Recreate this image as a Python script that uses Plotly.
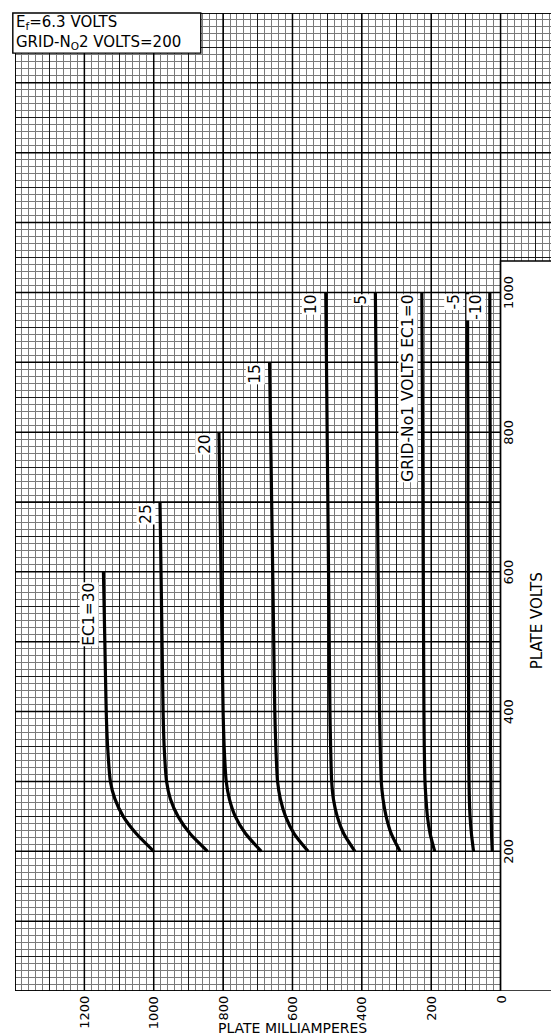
import plotly.graph_objects as go

# ---------------- data ----------------
plate_volts = [200, 225, 250, 275, 300, 350, 400, 500, 600, 700, 800, 900, 1000]

grid1_labels = ["EC1=30", "25", "20", "15", "10", "5", "GRID-No1 VOLTS EC1=0", "-5", "-10"]

ma_ec30 = [1000, 1050, 1088, 1112, 1125, 1133, 1137, 1141, 1145]
ma_ec25 = [845, 895, 930, 952, 963, 970, 973, 976, 979, 982]
ma_ec20 = [690, 735, 765, 782, 791, 797, 800, 803, 806, 809, 812]
ma_ec15 = [555, 595, 620, 635, 643, 648, 651, 654, 657, 660, 663, 666]
ma_ec10 = [420, 452, 471, 482, 487, 490, 492, 494, 496, 498, 500, 502, 504]
ma_ec5 = [290, 315, 330, 339, 344, 347, 349, 351, 353, 355, 357, 359, 361]
ma_ec0 = [190, 203, 211, 215, 218, 220, 221, 222, 223, 224, 225, 226, 227]
ma_ecm5 = [78, 84, 88, 90, 91, 92, 92, 93, 93, 94, 94, 95, 95]
ma_ecm10 = [24, 26, 27, 28, 28, 29, 29, 29, 30, 30, 30, 31, 31]

curves_ma = [ma_ec30, ma_ec25, ma_ec20, ma_ec15, ma_ec10, ma_ec5, ma_ec0, ma_ecm5, ma_ecm10]

ma_ticks = [1200, 1000, 800, 600, 400, 200, 0]
volt_ticks = [200, 400, 600, 800, 1000]

note_lines = ["E<sub>f</sub>=6.3 VOLTS", "GRID-N<sub>O</sub>2 VOLTS=200"]

# ---------------- layout constants ----------------
X_MAX, X_MIN = 1400, -180   # plate mA (reversed axis)
Y_MIN, Y_MAX = 0, 1400      # plate volts
CUT_V = 1045                # blank corner height
FONT = "DejaVu Sans"

fig = go.Figure()

for name, ma in zip(grid1_labels, curves_ma):
    v = plate_volts[:len(ma)]
    fig.add_trace(go.Scatter(
        x=ma, y=v, mode="lines", name=name,
        line=dict(color="black", width=3.2, shape="spline", smoothing=0.6),
        hoverinfo="skip", showlegend=False))

shapes = []
# heavy grid lines (every 10 squares)
for m in range(0, X_MAX + 1, 200):
    shapes.append(dict(type="line", xref="x", yref="y", x0=m, x1=m, y0=Y_MIN, y1=Y_MAX,
                       line=dict(color="black", width=1.5), layer="between"))
for vv in range(0, Y_MAX + 1, 100):
    shapes.append(dict(type="line", xref="x", yref="y", x0=X_MAX, x1=X_MIN, y0=vv, y1=vv,
                       line=dict(color="black", width=1.5), layer="between"))
# blank lower-right corner
shapes.append(dict(type="rect", xref="x", yref="y", x0=0, x1=X_MIN - 30, y0=Y_MIN - 100, y1=CUT_V,
                   fillcolor="white", line=dict(width=0), layer="between"))
# outline of the graph paper
shapes.append(dict(type="path", xref="x", yref="y",
                   path=(f"M {X_MAX} {Y_MIN} L {X_MAX} {Y_MAX} L {X_MIN} {Y_MAX} "
                         f"L {X_MIN} {CUT_V} L 0 {CUT_V} L 0 {Y_MIN} Z"),
                   line=dict(color="black", width=1.6), layer="between"))
shapes.append(dict(type="line", xref="x", yref="y", x0=0, x1=X_MIN - 30, y0=Y_MIN, y1=Y_MIN,
                   line=dict(color="black", width=1.4), layer="between"))
# note box
shapes.append(dict(type="rect", xref="paper", yref="paper", x0=-0.004, x1=0.339, y0=0.959, y1=1.0,
                   fillcolor="white", line=dict(color="black", width=1.4), layer="above"))

annotations = []
# bottom tick labels
for t in ma_ticks:
    annotations.append(dict(x=t, y=0, xref="x", yref="paper", text=str(t), showarrow=False,
                            textangle=-90, xanchor="center", yanchor="top", yshift=-3,
                            font=dict(family=FONT, size=13, color="black")))
annotations.append(dict(x=600, y=0, xref="x", yref="paper", text="PLATE MILLIAMPERES",
                        showarrow=False, yanchor="middle", yshift=-37,
                        font=dict(family=FONT, size=14, color="black")))
# right-hand volt labels
for t in volt_ticks:
    annotations.append(dict(x=0, y=t, xref="x", yref="y", text=str(t), showarrow=False,
                            textangle=-90, xanchor="center", yanchor="middle", xshift=8,
                            font=dict(family=FONT, size=13, color="black")))
annotations.append(dict(x=0, y=530, xref="x", yref="y", text="PLATE VOLTS", showarrow=False,
                        textangle=-90, xanchor="center", yanchor="middle", xshift=36,
                        font=dict(family=FONT, size=15, color="black")))
# curve labels
for i, (name, ma) in enumerate(zip(grid1_labels, curves_ma)):
    top_v = plate_volts[len(ma) - 1]
    annotations.append(dict(x=ma[-1], y=top_v, xref="x", yref="y", text=name, showarrow=False,
                            textangle=-90, xanchor="right", yanchor="top",
                            xshift=-4, yshift=(-10 if i == 0 else -1),
                            bgcolor="white", borderpad=0,
                            font=dict(family=FONT, size=15.5, color="black")))
# note text
annotations.append(dict(x=0.0, y=1.0, xref="paper", yref="paper", text="<br>".join(note_lines),
                        showarrow=False, xanchor="left", yanchor="top", align="left",
                        borderpad=0, yshift=1,
                        font=dict(family=FONT, size=15, color="black")))

fig.update_layout(
    width=559, height=1034,
    margin=dict(l=7, r=4, t=5, b=51),
    paper_bgcolor="white", plot_bgcolor="white",
    shapes=shapes, annotations=annotations,
    showlegend=False,
    xaxis=dict(range=[X_MAX, X_MIN], showticklabels=False, ticks="", zeroline=False,
               showline=False, tickmode="linear", tick0=0, dtick=100,
               showgrid=True, gridcolor="#1a1a1a", gridwidth=1.1,
               minor=dict(tickmode="linear", dtick=20, showgrid=True,
                          gridcolor="#7a7a7a", gridwidth=0.8, ticks="")),
    yaxis=dict(range=[Y_MIN, Y_MAX], showticklabels=False, ticks="", zeroline=False,
               showline=False, tickmode="linear", tick0=0, dtick=50,
               showgrid=True, gridcolor="#1a1a1a", gridwidth=1.1,
               minor=dict(tickmode="linear", dtick=10, showgrid=True,
                          gridcolor="#7a7a7a", gridwidth=0.8, ticks="")),
)

fig.write_html("out.html")
